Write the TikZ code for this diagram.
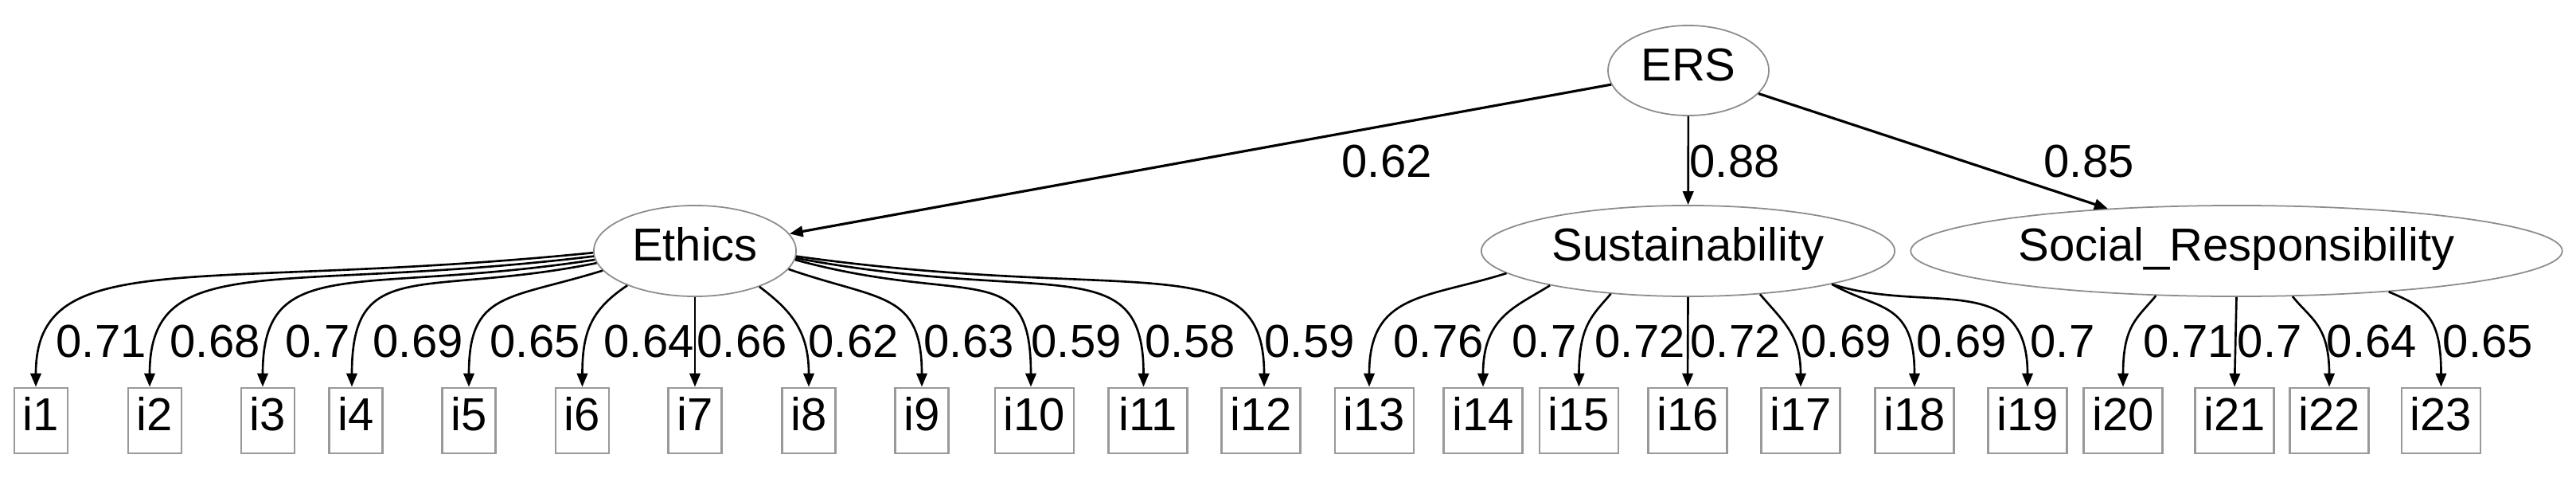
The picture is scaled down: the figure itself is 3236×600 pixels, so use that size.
\documentclass[tikz,border=0pt]{standalone}
\usepackage{fontspec}
\setmainfont{Liberation Sans}
\usetikzlibrary{arrows.meta,shapes.geometric}
\begin{document}
\begin{tikzpicture}[x=0.01cm,y=-0.01cm,
  every node/.style={font=\fontsize{16.5}{19}\selectfont},
  lat/.style={ellipse, draw=gray!90, line width=0.5pt, inner sep=0pt, minimum height=1.14cm, text depth=0pt, text height=0.72em},
  obs/.style={rectangle, draw=gray!80, line width=0.8pt, inner sep=0pt, minimum height=0.82cm, text depth=0pt, text height=0.72em},
  obA/.style={obs, minimum width=0.67cm},
  obB/.style={obs, minimum width=0.99cm},
  ld/.style={draw=black, line width=0.75pt, -{Triangle[length=4.8pt,width=3.8pt]}},
  lab/.style={anchor=base west, inner sep=0pt}]
\fill[white] (0,0) rectangle (3236,600);
\useasboundingbox (0,0) rectangle (3236,600);

% latent variables
\node[lat, minimum width=2.02cm, minimum height=1.13cm] (ERS) at (2121,88.5) {ERS};
\node[lat, minimum width=2.54cm] (Eth) at (873,315) {Ethics};
\node[lat, minimum width=5.19cm] (Sus) at (2120.5,315) {Sustainability};
\node[lat, minimum width=8.18cm] (Soc) at (2809.5,315) {Social\_Responsibility};

% indicators
\node[obA] (i1) at (51.5,528) {i1};
\node[obA] (i2) at (194.5,528) {i2};
\node[obA] (i3) at (336.5,528) {i3};
\node[obA] (i4) at (447,528) {i4};
\node[obA] (i5) at (589,528) {i5};
\node[obA] (i6) at (731.5,528) {i6};
\node[obA] (i7) at (873,528) {i7};
\node[obA] (i8) at (1016,528) {i8};
\node[obA] (i9) at (1158,528) {i9};
\node[obB] (i10) at (1299.5,528) {i10};
\node[obB] (i11) at (1442,528) {i11};
\node[obB] (i12) at (1584,528) {i12};
\node[obB] (i13) at (1726.5,528) {i13};
\node[obB] (i14) at (1863,528) {i14};
\node[obB] (i15) at (1983.5,528) {i15};
\node[obB] (i16) at (2120,528) {i16};
\node[obB] (i17) at (2262,528) {i17};
\node[obB] (i18) at (2405,528) {i18};
\node[obB] (i19) at (2547,528) {i19};
\node[obB] (i20) at (2667,528) {i20};
\node[obB] (i21) at (2807,528) {i21};
\node[obB] (i22) at (2926,528) {i22};
\node[obB] (i23) at (3066.5,528) {i23};

% second-order paths
\draw[ld, line width=0.9pt] (ERS) -- (Eth);
\draw[ld] (ERS) -- (Sus);
\draw[ld, line width=0.9pt] (ERS) -- (Soc);
\node[lab] (la) at (1685,222) {0.62};
\node[lab] (lb) at (2122,222) {0.88};
\node[lab] (lc) at (2567,222) {0.85};

% Ethics loadings
\draw[ld] (Eth.181) .. controls +(-500,50) and +(0,-180) .. ([xshift=-0.065cm]i1.north);
\draw[ld] (Eth.183) .. controls +(-400,48) and +(0,-175) .. ([xshift=-0.065cm]i2.north);
\draw[ld] (Eth.185) .. controls +(-300,46) and +(0,-170) .. ([xshift=-0.065cm]i3.north);
\draw[ld] (Eth.187) .. controls +(-220,44) and +(0,-165) .. ([xshift=-0.05cm]i4.north);
\draw[ld] (Eth.192) .. controls +(-120,37) and +(0,-120) .. (i5.north);
\draw[ld] (Eth.207) .. controls +(-45,30) and +(0,-70) .. (i6.north);
\draw[ld] (Eth.south) -- (i7.north);
\draw[ld] (Eth.331) .. controls +(40,30) and +(0,-70) .. (i8.north);
\draw[ld] (Eth.349) .. controls +(115,40) and +(0,-120) .. (i9.north);
\draw[ld] (Eth.355) .. controls +(220,60) and +(0,-165) .. ([xshift=-0.045cm]i10.north);
\draw[ld] (Eth.356) .. controls +(320,60) and +(0,-175) .. ([xshift=-0.055cm]i11.north);
\draw[ld] (Eth.357) .. controls +(430,60) and +(0,-180) .. ([xshift=0.04cm]i12.north);

% Sustainability loadings
\draw[ld] (Sus.187) .. controls +(-102,32) and +(0,-118) .. ([xshift=-0.065cm]i13.north);
\draw[ld] (Sus.194) .. controls +(-43,27) and +(0,-88) .. (i14.north);
\draw[ld] (Sus.209) .. controls +(-22,26) and +(0,-78) .. (i15.north);
\draw[ld] (Sus.south) -- (i16.north);
\draw[ld] (Sus.329) .. controls +(30,35) and +(0,-65) .. (i17.north);
\draw[ld] (Sus.347) .. controls +(58,33) and +(0,-108) .. (i18.north);
\draw[ld] (Sus.347) .. controls +(118,38) and +(0,-148) .. (i19.north);

% Social responsibility loadings
\draw[ld] (Soc.209) .. controls +(-23,28) and +(0,-78) .. (i20.north);
\draw[ld] (Soc.south) -- (i21.north);
\draw[ld] (Soc.321) .. controls +(22,28) and +(0,-78) .. (i22.north);
\draw[ld] (Soc.345) .. controls +(47,20) and +(0,-88) .. (i23.north);

% loading labels
\node[lab] (l1) at (70,448) {0.71};
\node[lab] (l2) at (213,448) {0.68};
\node[lab] (l3) at (358,448) {0.7};
\node[lab] (l4) at (468,448) {0.69};
\node[lab] (l5) at (615,448) {0.65};
\node[lab] (l6) at (758,448) {0.64};
\node[lab] (l7) at (875,448) {0.66};
\node[lab] (l8) at (1015,448) {0.62};
\node[lab] (l9) at (1160,448) {0.63};
\node[lab] (l10) at (1295,448) {0.59};
\node[lab] (l11) at (1438,448) {0.58};
\node[lab] (l12) at (1588,448) {0.59};
\node[lab] (l13) at (1750,448) {0.76};
\node[lab] (l14) at (1899,448) {0.7};
\node[lab] (l15) at (2003,448) {0.72};
\node[lab] (l16) at (2123,448) {0.72};
\node[lab] (l17) at (2262,448) {0.69};
\node[lab] (l18) at (2407,448) {0.69};
\node[lab] (l19) at (2550,448) {0.7};
\node[lab] (l20) at (2692,448) {0.71};
\node[lab] (l21) at (2810,448) {0.7};
\node[lab] (l22) at (2922,448) {0.64};
\node[lab] (l23) at (3068,448) {0.65};
\end{tikzpicture}
\end{document}
